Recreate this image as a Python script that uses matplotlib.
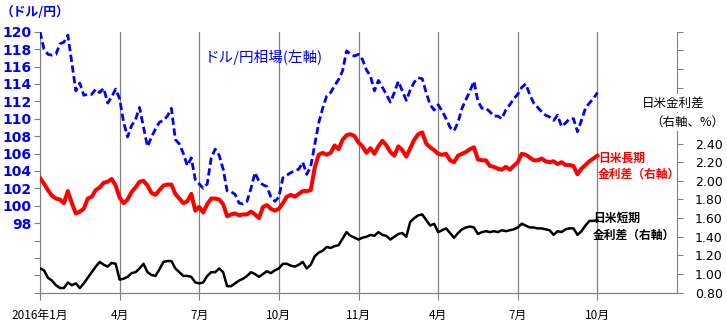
import numpy as np
import matplotlib
matplotlib.use('Agg')
import matplotlib.pyplot as plt
from matplotlib.ticker import MultipleLocator, FuncFormatter

plt.rcParams['font.family'] = ['Noto Sans CJK JP', 'DejaVu Sans']

# 四半期ごとの目盛り (1四半期 = 20点)
tick_labels = ['2016年1月', '4月', '7月', '10月', '11月', '4月', '7月', '10月']
points_per_quarter = 20

# ドル/円相場 (左軸)
usdjpy = [
    120.0, 118.0, 117.4, 117.3, 117.4, 118.6, 118.8, 119.6, 116.4, 113.2,
    114.1, 112.7, 112.8, 112.8, 113.4, 113.0, 113.5, 111.8, 112.5, 113.4,
    112.3, 109.6, 107.9, 109.2, 109.9, 111.3, 109.0, 106.8, 107.9, 108.8,
    109.6, 109.8, 110.3, 111.2, 107.6, 107.1, 106.0, 104.6, 105.5, 103.0,
    102.5, 102.0, 102.5, 105.5, 106.5, 105.8, 104.2, 101.7, 101.6, 101.3,
    100.3, 100.2, 100.5, 102.0, 103.8, 102.8, 102.4, 102.2, 101.0, 100.5,
    101.0, 103.2, 103.5, 103.8, 104.0, 104.2, 105.0, 103.6, 104.5, 107.0,
    109.5, 111.2, 112.6, 113.0, 113.8, 114.5, 115.5, 117.8, 117.4, 117.2,
    117.4, 116.8, 115.6, 114.9, 113.2, 114.4, 113.6, 112.8, 111.9, 113.0,
    114.3, 113.2, 112.1, 113.3, 114.2, 114.7, 114.6, 113.0, 111.6, 111.0,
    111.6, 110.9, 110.0, 109.0, 108.6, 109.6, 111.2, 112.2, 113.2, 114.3,
    112.0, 111.2, 111.2, 110.8, 110.3, 110.3, 110.0, 111.0, 111.6, 112.3,
    112.8, 113.6, 114.0, 112.8, 111.8, 111.3, 110.8, 110.4, 110.2, 109.8,
    110.4, 109.1, 109.5, 110.0, 110.0, 108.5, 109.8, 111.2, 111.8, 112.3,
    113.0,
]

# 日米長期金利差 (右軸, %)
long_spread = [
    2.03, 1.97, 1.90, 1.84, 1.81, 1.80, 1.76, 1.89, 1.76, 1.65,
    1.67, 1.70, 1.81, 1.83, 1.90, 1.93, 1.98, 1.99, 2.02, 1.95,
    1.82, 1.76, 1.80, 1.88, 1.93, 1.99, 2.00, 1.95, 1.87, 1.85,
    1.90, 1.95, 1.96, 1.96, 1.86, 1.81, 1.76, 1.78, 1.86, 1.68,
    1.72, 1.66, 1.75, 1.81, 1.81, 1.80, 1.75, 1.62, 1.64, 1.65,
    1.63, 1.64, 1.64, 1.67, 1.64, 1.60, 1.72, 1.74, 1.70, 1.68,
    1.70, 1.76, 1.83, 1.85, 1.83, 1.86, 1.89, 1.89, 1.90, 2.14,
    2.28, 2.30, 2.28, 2.30, 2.38, 2.34, 2.44, 2.49, 2.50, 2.48,
    2.41, 2.37, 2.30, 2.35, 2.29, 2.37, 2.43, 2.38, 2.31, 2.27,
    2.37, 2.33, 2.26, 2.35, 2.44, 2.50, 2.52, 2.40, 2.36, 2.33,
    2.29, 2.28, 2.29, 2.22, 2.20, 2.27, 2.29, 2.31, 2.34, 2.36,
    2.23, 2.22, 2.22, 2.16, 2.15, 2.13, 2.12, 2.15, 2.12, 2.16,
    2.20, 2.29, 2.28, 2.25, 2.22, 2.22, 2.24, 2.21, 2.20, 2.21,
    2.18, 2.20, 2.17, 2.17, 2.16, 2.07, 2.13, 2.17, 2.21, 2.24,
    2.27,
]

# 日米短期金利差 (右軸, %)
short_spread = [
    1.06, 1.04, 0.96, 0.93, 0.88, 0.85, 0.85, 0.91, 0.88, 0.90,
    0.85, 0.90, 0.96, 1.02, 1.08, 1.13, 1.10, 1.08, 1.12, 1.11,
    0.94, 0.95, 0.97, 1.01, 1.02, 1.06, 1.11, 1.02, 0.99, 0.98,
    1.05, 1.13, 1.14, 1.14, 1.06, 1.02, 0.98, 0.98, 0.97, 0.91,
    0.90, 0.91, 0.98, 1.02, 1.02, 1.06, 1.02, 0.87, 0.87, 0.90,
    0.93, 0.95, 0.98, 1.02, 1.00, 0.97, 1.00, 1.03, 1.01, 1.04,
    1.06, 1.11, 1.11, 1.09, 1.08, 1.10, 1.13, 1.06, 1.10, 1.19,
    1.23, 1.25, 1.29, 1.28, 1.30, 1.31, 1.38, 1.45, 1.41, 1.39,
    1.37, 1.39, 1.40, 1.42, 1.41, 1.45, 1.42, 1.41, 1.37, 1.40,
    1.43, 1.44, 1.40, 1.56, 1.60, 1.63, 1.64, 1.58, 1.52, 1.54,
    1.45, 1.47, 1.49, 1.44, 1.39, 1.44, 1.48, 1.50, 1.51, 1.50,
    1.43, 1.45, 1.46, 1.45, 1.46, 1.45, 1.47, 1.46, 1.47, 1.48,
    1.50, 1.54, 1.52, 1.50, 1.50, 1.49, 1.49, 1.48, 1.47, 1.42,
    1.46, 1.45, 1.48, 1.49, 1.49, 1.42, 1.46, 1.52, 1.57, 1.57,
    1.58,
]

W, H = 727, 330
gray = '#808080'

fig = plt.figure(figsize=(W / 100, H / 100), dpi=100)
ax = fig.add_axes([40 / W, 37.3 / H, 637 / W, 261 / H])
ax2 = ax.twinx()

# 左軸: ドル/円
ax.plot(np.arange(len(usdjpy)), usdjpy, color='#0000ff', lw=2.0,
        linestyle=(0, (2.6, 1.3)), zorder=3)
ax.set_ylim(90, 120)
ax.yaxis.set_major_locator(MultipleLocator(2))
ax.yaxis.set_major_formatter(FuncFormatter(lambda v, p: f'{v:.0f}' if v >= 97.5 else ''))
ax.tick_params(axis='y', direction='out', length=4, color=gray, pad=2,
               labelsize=10, labelcolor='#0000ff')
for lab in ax.get_yticklabels():
    lab.set_fontweight('bold')
    lab.set_family('DejaVu Sans')

# x軸と縦の目盛線
n_ticks = len(tick_labels)
ax.set_xlim(0, points_per_quarter * 8)
ax.set_xticks(np.arange(n_ticks) * points_per_quarter)
ax.set_xticklabels(tick_labels)
ax.tick_params(axis='x', direction='out', length=5, color=gray, pad=7, labelsize=8.5)
ax.grid(axis='x', color=gray, lw=0.9)
ax.set_axisbelow(True)

# 右軸: 金利差
ax2.plot(np.arange(len(long_spread)), long_spread, color='#ff0000', lw=2.9)
ax2.plot(np.arange(len(short_spread)), short_spread, color='black', lw=1.8)
ax2.set_ylim(0.8, 3.6)
ax2.yaxis.set_major_locator(MultipleLocator(0.2))
ax2.yaxis.set_major_formatter(FuncFormatter(lambda v, p: f'{v:.2f}' if v <= 2.41 else ''))
ax2.tick_params(axis='y', direction='out', length=4, color=gray, pad=9, labelsize=9)
for lab in ax2.get_yticklabels():
    lab.set_family('DejaVu Sans')

for a in (ax, ax2):
    a.spines['top'].set_visible(False)
    for s in ('left', 'right', 'bottom'):
        a.spines[s].set_color(gray)
ax.spines['right'].set_visible(False)
ax2.spines['left'].set_visible(False)


def px(x, y):
    return x / W, 1 - y / H


fig.text(*px(1, 12), '（ドル/円）', color='#0000ff', fontsize=9.2,
         fontweight='bold', va='center', ha='left')
fig.text(*px(205, 57), 'ドル/円相場(左軸)', color='#0000ff', fontsize=10.5,
         va='center', ha='left')
fig.text(*px(598, 166), '日米長期\n金利差（右軸）', color='#ff0000', fontsize=8.5,
         fontweight='bold', va='center', ha='left', linespacing=1.35)
fig.text(*px(593, 227), '日米短期\n金利差（右軸）', color='black', fontsize=8.5,
         fontweight='bold', va='center', ha='left', linespacing=1.35)
fig.text(*px(673, 103), '日米金利差', color='black', fontsize=9,
         va='center', ha='center',
         bbox=dict(facecolor='white', edgecolor='none', pad=1.5))
fig.text(*px(687, 122), '（右軸、%）', color='black', fontsize=9,
         va='center', ha='center',
         bbox=dict(facecolor='white', edgecolor='none', pad=1.5))

fig.savefig('out.png', dpi=100)
